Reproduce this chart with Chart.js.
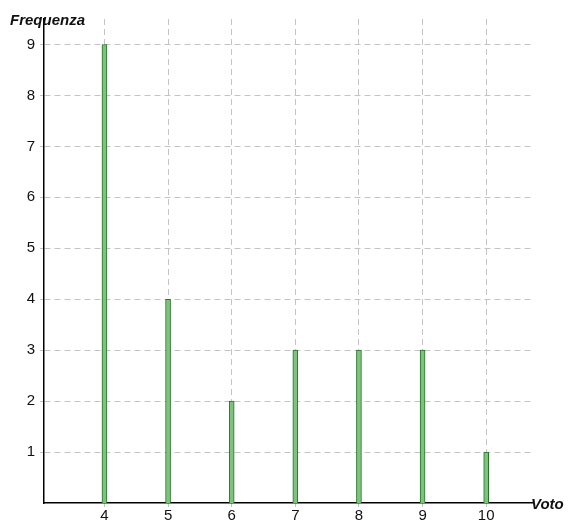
<!DOCTYPE html>
<html>
<head>
<meta charset="utf-8">
<script src="https://cdn.jsdelivr.net/npm/chart.js@4/dist/chart.umd.min.js"></script>
<style>
html,body{margin:0;padding:0;background:#fff;}
#wrap{width:570px;height:520px;}
</style>
</head>
<body>
<div id="wrap"><canvas id="c" width="570" height="520"></canvas></div>
<script>
const categories = [4, 5, 6, 7, 8, 9, 10];
const frequencies = [9, 4, 2, 3, 3, 3, 1];
const xTicks = [4, 5, 6, 7, 8, 9, 10];
const yTicks = [1, 2, 3, 4, 5, 6, 7, 8, 9];
const xTitle = 'Voto';
const yTitle = 'Frequenza';

const points = categories.map((c, i) => ({x: c, y: frequencies[i]}));

const axisTitles = {
  id: 'axisTitles',
  afterDraw(chart) {
    const ctx = chart.ctx;
    const a = chart.chartArea;
    ctx.save();
    ctx.fillStyle = '#111';
    ctx.font = 'italic bold 15px "Liberation Sans", Arial, sans-serif';
    ctx.textBaseline = 'alphabetic';
    ctx.textAlign = 'left';
    ctx.fillText(yTitle, 10, 25);
    ctx.fillText(xTitle, a.right - 1, a.bottom + 6);
    ctx.restore();
  }
};

new Chart(document.getElementById('c'), {
  type: 'bar',
  data: {
    datasets: [{
      data: points,
      backgroundColor: '#7cc47c',
      borderColor: '#2a6e2a',
      borderWidth: 1,
      barThickness: 5
    }]
  },
  options: {
    responsive: false,
    animation: false,
    layout: {padding: {top: 19, right: 38, left: 0, bottom: 0}},
    plugins: {legend: {display: false}, tooltip: {enabled: false}},
    scales: {
      x: {
        type: 'linear',
        min: 3.05,
        max: 10.72,
        offset: false,
        afterBuildTicks(s) { s.ticks = xTicks.map(v => ({value: v})); },
        afterFit(s) { s.height = 17; },
        ticks: {color: '#111', font: {size: 15, family: '"Liberation Sans", Arial, sans-serif'}, padding: 0, maxRotation: 0, autoSkip: false},
        grid: {offset: false, color: '#c4c4c4', lineWidth: 1, tickLength: 4, tickColor: '#c4c4c4', drawTicks: true},
        border: {display: true, color: '#000', width: 1.5, dash: [6, 4]}
      },
      y: {
        min: 0,
        max: 9.5,
        afterBuildTicks(s) { s.ticks = yTicks.map(v => ({value: v})); },
        afterFit(s) { s.width = 44; },
        ticks: {color: '#111', font: {size: 15, family: '"Liberation Sans", Arial, sans-serif'}, padding: 5},
        grid: {color: '#c4c4c4', lineWidth: 1, tickLength: 4, tickColor: '#c4c4c4'},
        border: {display: true, color: '#000', width: 1.5, dash: [6, 4]}
      }
    }
  },
  plugins: [axisTitles]
});
</script>
</body>
</html>
